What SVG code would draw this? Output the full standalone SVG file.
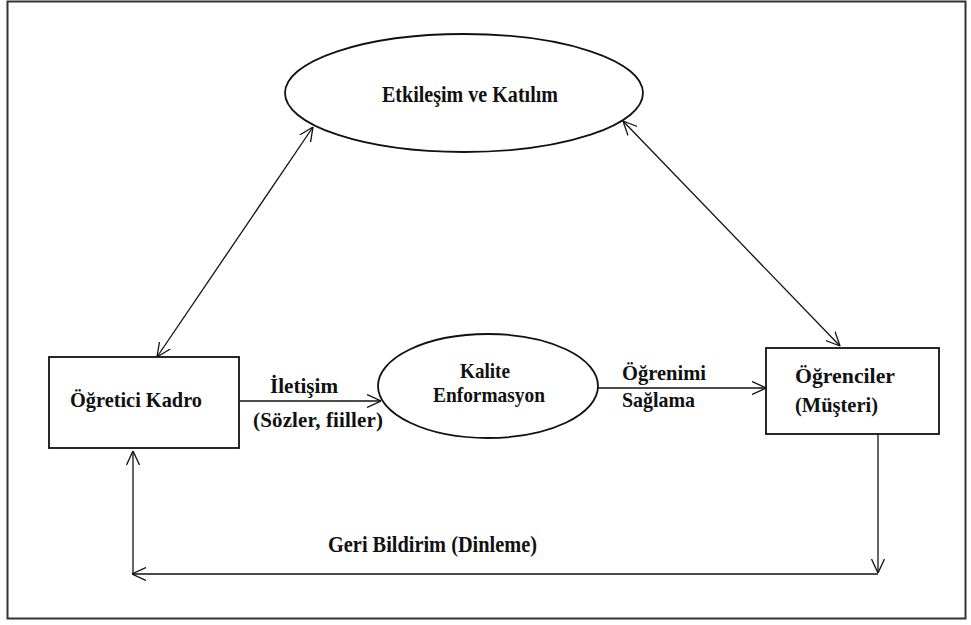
<svg xmlns="http://www.w3.org/2000/svg" width="971" height="625" viewBox="0 0 971 625">
  <style>
    .t { font-family: 'Liberation Serif', 'DejaVu Serif', serif; font-weight: bold; font-size: 21px; fill: #111; }
    .shape { fill: #fff; stroke: #111; stroke-width: 1.8; }
    .conn { fill: none; stroke: #111; stroke-width: 1.3; }
  </style>
  <defs>
    <marker id="arr" viewBox="0 0 14 14" refX="14" refY="7" markerWidth="14" markerHeight="14" markerUnits="userSpaceOnUse" orient="auto-start-reverse">
      <path d="M0,0.5 L14,7 L0,13.5" fill="none" stroke="#111" stroke-width="1.3"/>
    </marker>
  </defs>
  <rect x="0" y="0" width="971" height="625" fill="#fff"/>
  <rect x="7.5" y="1.5" width="958" height="617" fill="none" stroke="#333" stroke-width="2"/>

  <g id="connectors">
    <line class="conn" x1="157" y1="357" x2="313" y2="127" marker-start="url(#arr)" marker-end="url(#arr)"/>
    <line class="conn" x1="623" y1="121" x2="840" y2="346" marker-start="url(#arr)" marker-end="url(#arr)"/>
    <line class="conn" x1="240" y1="401" x2="381" y2="401" marker-end="url(#arr)"/>
    <line class="conn" x1="598" y1="388" x2="766" y2="388" marker-end="url(#arr)"/>
    <line class="conn" x1="878" y1="434" x2="878" y2="573" marker-end="url(#arr)"/>
    <line class="conn" x1="878" y1="574" x2="132" y2="574" stroke-width="1.8" marker-end="url(#arr)"/>
    <line class="conn" x1="133" y1="574" x2="133" y2="451" marker-end="url(#arr)"/>
  </g>

  <g id="etkilesim">
    <ellipse class="shape" cx="464" cy="93" rx="179" ry="59"/>
    <text class="t" x="382" y="102" textLength="176" lengthAdjust="spacingAndGlyphs" style="font-size:23px">Etkileşim ve Katılım</text>
  </g>

  <g id="ogretici">
    <rect class="shape" x="49" y="357" width="190" height="91"/>
    <text class="t" x="70" y="407" textLength="132" lengthAdjust="spacingAndGlyphs">Öğretici Kadro</text>
  </g>

  <g id="kalite">
    <ellipse class="shape" cx="488" cy="386" rx="110" ry="52"/>
    <text class="t" x="460" y="378" textLength="50" lengthAdjust="spacingAndGlyphs">Kalite</text>
    <text class="t" x="433" y="402" textLength="112" lengthAdjust="spacingAndGlyphs">Enformasyon</text>
  </g>

  <g id="ogrenciler">
    <rect class="shape" x="766" y="348" width="173" height="86"/>
    <text class="t" x="795" y="383" textLength="100" lengthAdjust="spacingAndGlyphs">Öğrenciler</text>
    <text class="t" x="795" y="412" textLength="83" lengthAdjust="spacingAndGlyphs">(Müşteri)</text>
  </g>

  <g id="labels">
    <text class="t" x="270" y="393" textLength="68" lengthAdjust="spacingAndGlyphs">İletişim</text>
    <text class="t" x="253" y="427" textLength="130" lengthAdjust="spacing">(Sözler, fiiller)</text>
    <text class="t" x="622" y="380" textLength="84" lengthAdjust="spacingAndGlyphs">Öğrenimi</text>
    <text class="t" x="622" y="407" textLength="73" lengthAdjust="spacingAndGlyphs">Sağlama</text>
    <text class="t" x="328" y="552" textLength="209" lengthAdjust="spacingAndGlyphs" style="font-size:23px">Geri Bildirim (Dinleme)</text>
  </g>
</svg>
